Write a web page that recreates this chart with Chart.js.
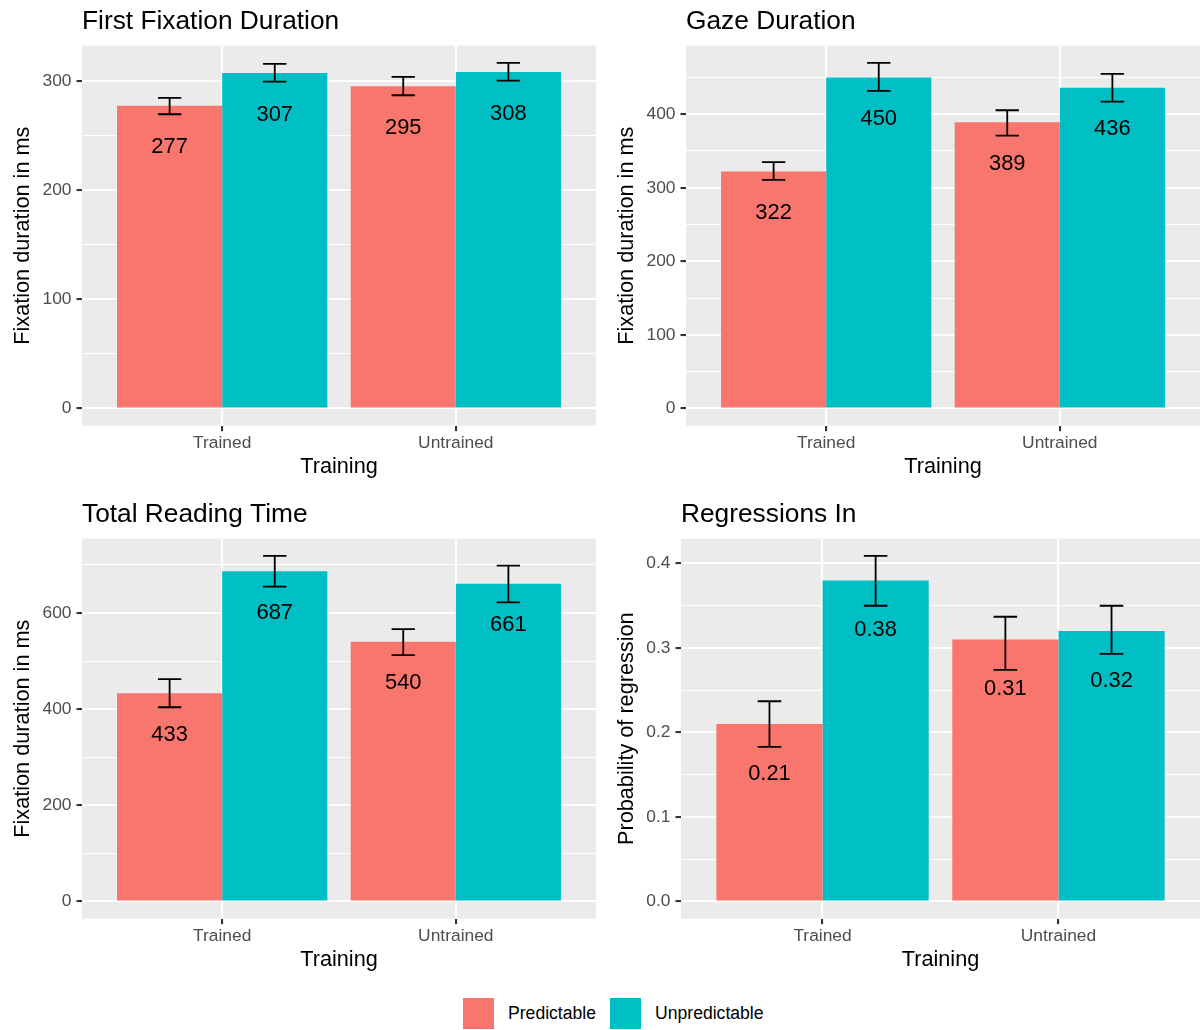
<!DOCTYPE html>
<html>
<head>
<meta charset="utf-8">
<title>Eye-tracking measures by training and predictability</title>
<script src="https://cdn.jsdelivr.net/npm/chart.js@4.4.0/dist/chart.umd.min.js"></script>
<style>
  html, body { margin: 0; padding: 0; background: #ffffff; }
  body { position: relative; width: 1200px; height: 1030px; overflow: hidden;
         font-family: 'Liberation Sans', Arial, sans-serif; }
  canvas { position: absolute; }
  #ffd { left: 0; top: 0; }
  #gd  { left: 604px; top: 0; }
  #trt { left: 0; top: 493px; }
  #reg { left: 604px; top: 493px; }
  .key { position: absolute; top: 998px; width: 31px; height: 31px; }
  .keytext { position: absolute; top: 1003px; font-size: 17.6px; line-height: 21px; color: #000; white-space: nowrap; }
</style>
</head>
<body>
<canvas id="ffd" width="600" height="486"></canvas>
<canvas id="gd" width="600" height="486"></canvas>
<canvas id="trt" width="600" height="486"></canvas>
<canvas id="reg" width="600" height="486"></canvas>

<div class="key" style="left:463px;background:#F8766D"></div>
<div class="keytext" style="left:508px">Predictable</div>
<div class="key" style="left:610px;background:#00BFC4"></div>
<div class="keytext" style="left:655px">Unpredictable</div>

<script>
// ---- data ----------------------------------------------------------------
const categories = ['Trained', 'Untrained'];
const seriesNames = ['Predictable', 'Unpredictable'];

// First Fixation Duration (ms)
const ffdPredictable = [277, 295];
const ffdUnpredictable = [307, 308];
const ffdPredictableLow = [269.3, 286.7];
const ffdPredictableHigh = [284.3, 303.5];
const ffdUnpredictableLow = [299.2, 300.1];
const ffdUnpredictableHigh = [315.4, 316.3];
const ffdTicks = [0, 100, 200, 300];
const ffdTickLabels = ['0', '100', '200', '300'];

// Gaze Duration (ms)
const gdPredictable = [322, 389];
const gdUnpredictable = [450, 436];
const gdPredictableLow = [310.7, 370.9];
const gdPredictableHigh = [334.8, 405.4];
const gdUnpredictableLow = [431.7, 417.1];
const gdUnpredictableHigh = [469.7, 454.8];
const gdTicks = [0, 100, 200, 300, 400];
const gdTickLabels = ['0', '100', '200', '300', '400'];

// Total Reading Time (ms)
const trtPredictable = [433, 540];
const trtUnpredictable = [687, 661];
const trtPredictableLow = [404.0, 512.5];
const trtPredictableHigh = [462.5, 566.7];
const trtUnpredictableLow = [654.8, 622.3];
const trtUnpredictableHigh = [718.8, 698.5];
const trtTicks = [0, 200, 400, 600];
const trtTickLabels = ['0', '200', '400', '600'];

// Regressions In (probability)
const regPredictable = [0.21, 0.31];
const regUnpredictable = [0.38, 0.32];
const regPredictableLow = [0.183, 0.274];
const regPredictableHigh = [0.237, 0.337];
const regUnpredictableLow = [0.350, 0.293];
const regUnpredictableHigh = [0.409, 0.350];
const regTicks = [0, 0.1, 0.2, 0.3, 0.4];
const regTickLabels = ['0.0', '0.1', '0.2', '0.3', '0.4'];

// ---- styling -------------------------------------------------------------
const FONT = "'Liberation Sans', Arial, sans-serif";
const COLORS = ['#F8766D', '#00BFC4'];
const PANEL_BG = '#EBEBEB';
const TICK_TEXT = '#4D4D4D';
const TICK_MARK = '#333333';

// Grey panel, error bars and value labels drawn on top of the bars
function panelDecor(opts) {
  return {
    id: 'panelDecor',
    beforeDraw(chart) {
      const { ctx, chartArea: a } = chart;
      ctx.save();
      ctx.fillStyle = PANEL_BG;
      ctx.fillRect(a.left, a.top, a.right - a.left, a.bottom - a.top);
      ctx.restore();
    },
    afterDatasetsDraw(chart) {
      const { ctx } = chart;
      const xs = chart.scales.x, ys = chart.scales.y;
      const half = xs.getPixelForValue(1 + opts.capWidth / 2) - xs.getPixelForValue(1);
      chart.data.datasets.forEach((ds, i) => {
        const meta = chart.getDatasetMeta(i);
        meta.data.forEach((bar, j) => {
          const yHi = ys.getPixelForValue(ds.errHigh[j]);
          const yLo = ys.getPixelForValue(ds.errLow[j]);
          ctx.save();
          ctx.strokeStyle = '#000000';
          ctx.lineWidth = 1.8;
          ctx.beginPath();
          ctx.moveTo(bar.x, yHi); ctx.lineTo(bar.x, yLo);
          ctx.moveTo(bar.x - half, yHi); ctx.lineTo(bar.x + half, yHi);
          ctx.moveTo(bar.x - half, yLo); ctx.lineTo(bar.x + half, yLo);
          ctx.stroke();
          ctx.fillStyle = '#000000';
          ctx.font = `21.9px ${FONT}`;
          ctx.textAlign = 'center';
          ctx.textBaseline = 'middle';
          const v = ds.data[j].y;
          ctx.fillText(v.toFixed(opts.decimals), bar.x, bar.y + opts.labelOffset);
          ctx.restore();
        });
      });
    }
  };
}

function makePanel(id, p) {
  const upper = Math.max(...p.predHigh, ...p.unpredHigh);
  const yMin = -0.05 * upper, yMax = 1.05 * upper;
  const step = p.ticks[1] - p.ticks[0];
  const minor = [];
  for (let k = 0; k < p.ticks.length; k++) {
    const m = p.ticks[k] + step / 2;
    if (m < yMax) minor.push(m);
  }
  const allTicks = [...p.ticks, ...minor].sort((a, b) => a - b);
  const majorIndex = v => p.ticks.findIndex(t => Math.abs(t - v) < 1e-9);

  const toPoints = arr => arr.map((v, i) => ({ x: i + 1, y: v }));

  new Chart(document.getElementById(id), {
    type: 'bar',
    data: {
      datasets: [
        { label: seriesNames[0], data: toPoints(p.pred), backgroundColor: COLORS[0],
          errLow: p.predLow, errHigh: p.predHigh },
        { label: seriesNames[1], data: toPoints(p.unpred), backgroundColor: COLORS[1],
          errLow: p.unpredLow, errHigh: p.unpredHigh }
      ]
    },
    options: {
      responsive: false,
      animation: false,
      events: [],
      categoryPercentage: 0.9,
      barPercentage: 1.0,
      layout: { padding: { left: 0, right: 4, top: 0, bottom: 0 } },
      plugins: {
        legend: { display: false },
        tooltip: { enabled: false },
        title: {
          display: true, text: p.title, align: 'start', fullSize: false,
          color: '#000000', font: { family: FONT, size: 26.3, weight: 'normal' },
          padding: { top: 6.4, bottom: 7.7 }
        }
      },
      scales: {
        x: {
          type: 'linear', min: 0.4, max: 2.6, offset: false,
          afterBuildTicks: s => { s.ticks = categories.map((c, i) => ({ value: i + 1 })); },
          afterFit: s => { s.height = 60.3; },
          ticks: {
            autoSkip: false, maxRotation: 0, padding: 2, color: TICK_TEXT,
            font: { family: FONT, size: 17.4 },
            callback: v => categories[Math.round(v) - 1] || ''
          },
          grid: { offset: false, color: '#FFFFFF', lineWidth: 2.1, tickLength: 5.5,
                  tickColor: TICK_MARK, tickWidth: 2.1 },
          border: { display: false },
          title: { display: true, text: 'Training', color: '#000000',
                   font: { family: FONT, size: 21.7 }, padding: { top: 0, bottom: 5.5 } }
        },
        y: {
          min: yMin, max: yMax,
          afterBuildTicks: s => { s.ticks = allTicks.map(v => ({ value: v })); },
          afterFit: s => { s.width = p.yWidth; },
          ticks: {
            autoSkip: false, padding: 5, color: TICK_TEXT,
            font: { family: FONT, size: 17.4 },
            callback: v => { const k = majorIndex(v); return k >= 0 ? p.tickLabels[k] : ''; }
          },
          grid: {
            color: '#FFFFFF',
            lineWidth: c => (c.tick && majorIndex(c.tick.value) >= 0 ? 2.1 : 1.05),
            tickLength: 5.5,
            tickWidth: 2.1,
            tickColor: c => (c.tick && majorIndex(c.tick.value) >= 0 ? TICK_MARK : 'rgba(0,0,0,0)')
          },
          border: { display: false },
          title: { display: true, text: p.yTitle, color: '#000000',
                   font: { family: FONT, size: 21.7 }, padding: { top: 10, bottom: 0 } }
        }
      }
    },
    plugins: [panelDecor({ capWidth: 0.1, labelOffset: p.labelOffset, decimals: p.decimals })]
  });
}

makePanel('ffd', {
  title: 'First Fixation Duration', yTitle: 'Fixation duration in ms',
  pred: ffdPredictable, unpred: ffdUnpredictable,
  predLow: ffdPredictableLow, predHigh: ffdPredictableHigh,
  unpredLow: ffdUnpredictableLow, unpredHigh: ffdUnpredictableHigh,
  ticks: ffdTicks, tickLabels: ffdTickLabels,
  yWidth: 82, labelOffset: 41.5, decimals: 0
});
makePanel('gd', {
  title: 'Gaze Duration', yTitle: 'Fixation duration in ms',
  pred: gdPredictable, unpred: gdUnpredictable,
  predLow: gdPredictableLow, predHigh: gdPredictableHigh,
  unpredLow: gdUnpredictableLow, unpredHigh: gdUnpredictableHigh,
  ticks: gdTicks, tickLabels: gdTickLabels,
  yWidth: 82, labelOffset: 41.5, decimals: 0
});
makePanel('trt', {
  title: 'Total Reading Time', yTitle: 'Fixation duration in ms',
  pred: trtPredictable, unpred: trtUnpredictable,
  predLow: trtPredictableLow, predHigh: trtPredictableHigh,
  unpredLow: trtUnpredictableLow, unpredHigh: trtUnpredictableHigh,
  ticks: trtTicks, tickLabels: trtTickLabels,
  yWidth: 82, labelOffset: 41.5, decimals: 0
});
makePanel('reg', {
  title: 'Regressions In', yTitle: 'Probability of regression',
  pred: regPredictable, unpred: regUnpredictable,
  predLow: regPredictableLow, predHigh: regPredictableHigh,
  unpredLow: regUnpredictableLow, unpredHigh: regUnpredictableHigh,
  ticks: regTicks, tickLabels: regTickLabels,
  yWidth: 77, labelOffset: 49.5, decimals: 2
});
</script>
</body>
</html>
